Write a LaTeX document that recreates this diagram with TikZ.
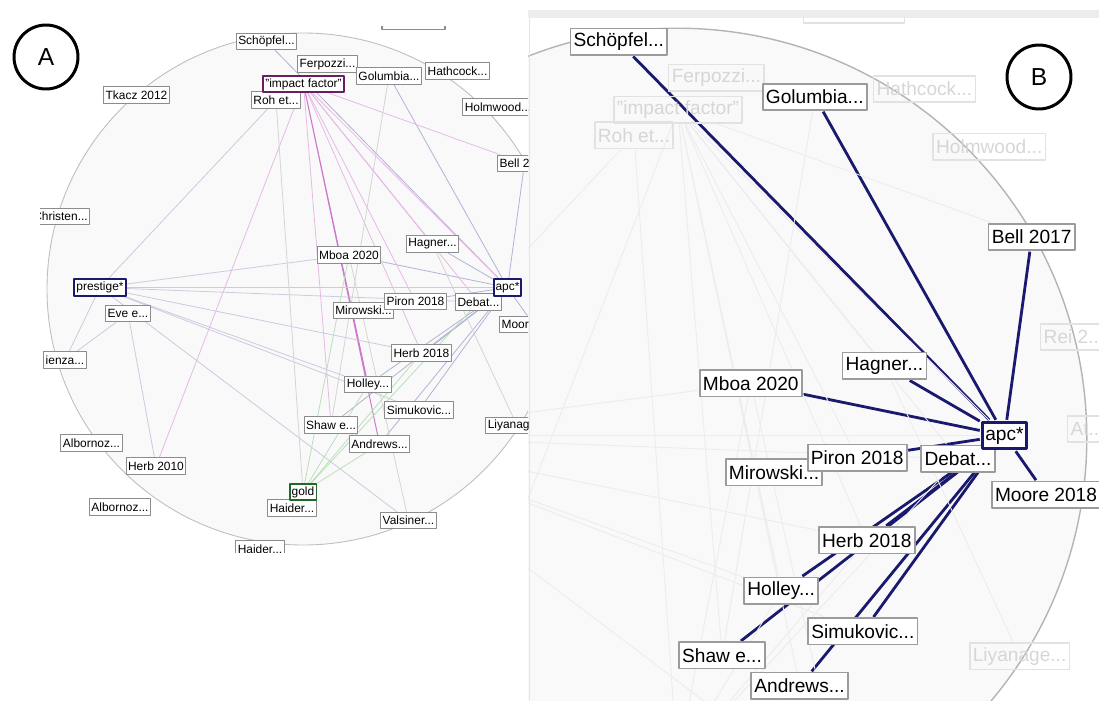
\documentclass[tikz,border=0pt]{standalone}
\usepackage{fontspec}
\setmainfont{Liberation Sans}
\pgfdeclarelayer{bg}
\pgfsetlayers{bg,main}
\definecolor{navy}{RGB}{25,25,110}
\definecolor{impcol}{RGB}{105,30,100}
\definecolor{goldcol}{RGB}{30,105,40}
\definecolor{boxgray}{RGB}{140,140,140}
\definecolor{boxgrayB}{RGB}{155,155,155}
\definecolor{fadebox}{RGB}{226,226,226}
\definecolor{fadetxt}{RGB}{214,214,214}
\definecolor{apcl}{RGB}{178,178,214}
\definecolor{impl}{RGB}{230,185,230}
\definecolor{impd}{RGB}{205,120,205}
\definecolor{prel}{RGB}{206,200,224}
\definecolor{goldl}{RGB}{186,224,186}
\definecolor{grayl}{RGB}{212,212,212}
\definecolor{fadel}{RGB}{236,236,236}
\definecolor{ringline}{RGB}{190,190,190}
\definecolor{ringfill}{RGB}{249,249,249}

% nodes and edges of the network, in the coordinates of panel A
\newcommand\netnodes{%
	\node[nd] (tkacz) at (136.5,95) {Tkacz 2012};
	\node[nd] (christen) at (60.5,216.5) {Christen...};
	\node[nd] (schopfel) at (266.5,41.5) {Schöpfel...};
	\node[fd] (ferpozzi) at (327.5,64) {Ferpozzi...};
	\node[nd] (golumbia) at (389,76) {Golumbia...};
	\node[fd] (hathcock) at (457.5,71) {Hathcock...};
	\node[fd, minimum width=1.26cm] (topbox) at (413.5,21.5) {};
	\node[fd] (roh) at (276,100) {Roh et...};
	\node[kimp] (impact) at (303.5,84) {"impact factor"};
	\node[fd] (holmwood) at (498,107) {Holmwood...};
	\node[nd] (bell) at (524.5,163.5) {Bell 2017};
	\node[fd] (rei) at (551,226) {Rei 2...};
	\node[fd] (ati) at (559.5,283.5) {At...};
	\node[nd] (hagner) at (432.5,244) {Hagner...};
	\node[nd] (mboa) at (349,255) {Mboa 2020};
	\node[kpre] (prestige) at (100,287.5) {prestige*};
	\node[nd] (eve) at (128,313.5) {Eve e...};
	\node[nd] (ienza) at (65,360) {ienza...};
	\node[nd] (mirowski) at (363.5,310.5) {Mirowski...};
	\node[nd] (piron) at (415.5,301.5) {Piron 2018};
	\node[nd] (debat) at (478.5,302) {Debat...};
	\node[kapc] (apc) at (507.5,287.5) {apc*};
	\node[nd] (moore) at (533.5,324.5) {Moore 2018};
	\node[nd] (herb18) at (421.5,353) {Herb 2018};
	\node[nd] (holley) at (368,384.5) {Holley...};
	\node[nd] (simukovic) at (419,410) {Simukovic...};
	\node[nd] (shaw) at (331,425) {Shaw e...};
	\node[fd] (liyanage) at (517,425.5) {Liyanage...};
	\node[nd] (andrews) at (379.5,444) {Andrews...};
	\node[nd] (albornozA) at (91.5,443) {Albornoz...};
	\node[nd] (herb10) at (156,466) {Herb 2010};
	\node[nd] (albornozB) at (120,507) {Albornoz...};
	\node[nd] (haiderA) at (292,508) {Haider...};
	\node[kgold] (gold) at (303,492) {gold};
	\node[nd] (valsiner) at (408.5,520.5) {Valsiner...};
	\node[nd] (haiderB) at (260,549) {Haider...};
}
\newcommand\netedges{%
	\foreach \t in {schopfel,golumbia,bell,hagner,mboa,piron,moore,herb18,holley,shaw,simukovic,andrews}
		\draw[eapc] (apc)--(\t);
	\foreach \t in {bell,apc,hagner,debat,piron,herb18,shaw,herb10}
		\draw[eimp] (impact)--(\t);
	\draw[eimpd] (impact)--(holley) (impact)--(andrews);
	\foreach \t in {apc,mboa,debat,herb18,holley,simukovic,valsiner,ienza,roh}
		\draw[epre] (prestige)--(\t);
	\draw[epre] (eve)--(herb10) (eve)--(ienza);
	\foreach \t in {mboa,herb18,debat,holley,andrews}
		\draw[egold] (gold)--(\t);
	\draw[egray] (golumbia)--(shaw) (roh)--(gold) (hagner)--(liyanage) (mboa)--(valsiner);
}

\begin{document}
\begin{tikzpicture}[x=0.02cm, y=-0.02cm, line join=round, line cap=round,
	nd/.style={draw=boxgray, fill=white, line width=0.6pt, inner xsep=0.04cm, inner ysep=0pt, minimum height=0.33cm, font=\fontsize{6.8}{8}\selectfont},
	fd/.style={nd},
	kimp/.style={nd, draw=impcol, line width=1.1pt},
	kapc/.style={nd, draw=navy, line width=1.1pt},
	kpre/.style={nd, draw=navy, line width=1.1pt},
	kgold/.style={nd, draw=goldcol, line width=0.9pt},
	eapc/.style={draw=apcl, line width=0.45pt},
	eimp/.style={draw=impl, line width=0.45pt},
	eimpd/.style={draw=impd, line width=0.55pt},
	epre/.style={draw=prel, line width=0.45pt},
	egold/.style={draw=goldl, line width=0.45pt},
	egray/.style={draw=grayl, line width=0.45pt},
	ring/.style={draw=ringline, fill=ringfill, line width=0.5pt},
	panel/.style={circle, draw, line width=1.7pt, minimum size=1.28cm, inner sep=0pt, font=\fontsize{14}{16}\selectfont}]
	\useasboundingbox (0,0) rectangle (1099,700);
	% panel A
	\begin{scope}
		\clip (40,26) rectangle (528,552);
		\netnodes
		\begin{pgfonlayer}{bg}
			\begin{scope}
				\clip (40,26) rectangle (528,552);
				\draw[ring] (303,289) circle (256);
				\netedges
			\end{scope}
		\end{pgfonlayer}
	\end{scope}
	% panel B: the same network, zoomed 1.6 times
	\fill[black!7] (528,10) rectangle (1099,18);
	\draw[black!10, line width=0.4pt] (529,18)--(529,700);
	\begin{scope}[shift={(192.4,-24.6)}, scale=1.6, transform shape,
		nd/.append style={draw=boxgrayB, line width=1pt},
		fd/.style={nd, draw=fadebox, fill=none, text=fadetxt},
		kimp/.style={fd},
		kapc/.style={nd, draw=navy, line width=1.8pt},
		eapc/.style={draw=navy, line width=1.6pt},
		eimp/.style={draw=fadel, line width=0.5pt},
		eimpd/.style={draw=fadel, line width=0.5pt},
		epre/.style={draw=fadel, line width=0.5pt},
		egold/.style={draw=fadel, line width=0.5pt},
		egray/.style={draw=fadel, line width=0.5pt},
		ring/.style={draw=ringline!95!black, fill=ringfill, line width=0.8pt}]
		\clip (209.75,26.6) rectangle (566.6,452.9);
		\netnodes
		\begin{pgfonlayer}{bg}
			\begin{scope}
				\clip (209.75,26.6) rectangle (566.6,452.9);
				\draw[ring] (303,289) circle (256);
				\netedges
			\end{scope}
		\end{pgfonlayer}
	\end{scope}
	\node[panel] (tagA) at (46,57) {A};
	\node[panel] (tagB) at (1039,77) {B};
\end{tikzpicture}
\end{document}
